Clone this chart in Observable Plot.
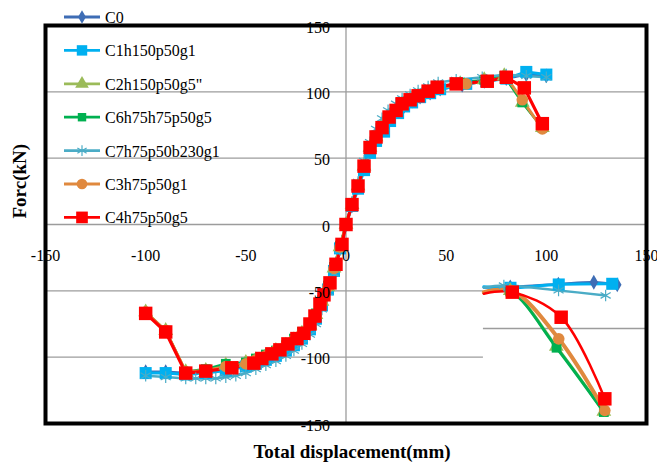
<!DOCTYPE html>
<html><head><meta charset="utf-8">
<script src="https://cdn.jsdelivr.net/npm/d3@7"></script>
<script src="https://cdn.jsdelivr.net/npm/@observablehq/plot@0.6"></script>
<style>
body{margin:0;background:#fff;}
#wrap{position:relative;width:657px;height:469px;overflow:hidden;}
#legend{position:absolute;left:0;top:0;pointer-events:none;}
#wrap svg, #wrap svg text{font-family:"Liberation Serif", serif !important;}
</style></head><body><div id="wrap"></div>
<script>
// ---------- data ----------
const seriesNames = ["C0", "C1h150p50g1", "C2h150p50g5\"", "C6h75h75p50g5", "C7h75p50b230g1", "C3h75p50g1", "C4h75p50g5"];
const seriesColors = ["#3E6DB5", "#00B0F0", "#9BBB59", "#00B050", "#4BACC6", "#E0893E", "#FF0000"];
const seriesSymbols = ["diamond", "square", "triangle", "square", "asterisk", "circle", "square"];

const xTicks = [-150, -100, -50, 0, 50, 100, 150];
const yTicks = [-150, -100, -50, 0, 50, 100, 150];

// main curves
const c0X = [-100,-90,-80,-70,-60,-50,-45,-40,-35,-30,-26,-22,-18,-15,-12,-9,-6,-3,0,3,6,9,12,15,18,22,26,29,33,37,42,47,58,69,80,90,100];
const c0Y = [-111,-111,-112,-111,-109,-106,-104,-101,-98,-94,-90,-85,-78,-70,-60,-48,-34,-17,0,14,28,42,55,64,71,79,85,89,93,96,99,102,105,108,110,113,112];
const c1X = [-100,-90,-80,-70,-60,-50,-45,-40,-35,-30,-26,-22,-18,-15,-12,-9,-6,-3,0,3,6,9,12,15,19,22,26,29,33,37,42,47,60,70,80,90,100];
const c1Y = [-112,-112,-113,-112,-110,-107,-105,-102,-99,-95,-91,-86,-79,-71,-61,-49,-35,-18,0,14,27,41,54,63,70,78,84,89,92,96,99,102,106,108,110,115,113];
const c2X = [-100,-90,-80,-70,-60,-50,-45,-40,-35,-30,-26,-22,-18,-15,-12,-9,-6,-3,0,3,6,9,12,15,18,21,25,28,32,36,41,46,57,69,79,88,98];
const c2Y = [-66,-80,-111,-110,-106,-104,-102,-99,-95,-91,-87,-82,-76,-68,-58,-47,-33,-17,0,15,29,44,58,66,74,81,86,91,94,97,100,103,106,109,112,92,73];
const c6X = [-100,-90,-80,-70,-60,-50,-45,-40,-35,-30,-26,-22,-18,-15,-12,-9,-6,-3,0,3,6,9,12,15,18,21,25,28,32,36,41,46,57,69,79,88,98];
const c6Y = [-66,-80,-111,-109,-105,-104,-101,-98,-95,-91,-86,-81,-75,-67,-57,-46,-32,-16,0,15,30,45,58,67,74,81,87,91,94,97,100,103,107,109,112,92,73];
const c7X = [-100,-90,-80,-75,-70,-65,-60,-55,-50,-45,-40,-35,-30,-26,-22,-18,-15,-12,-9,-6,-3,0,3,6,9,12,15,18,21,25,28,32,36,41,46,55,68,80,90,100];
const c7Y = [-114,-115,-116,-116,-116,-116,-115,-114,-112,-109,-106,-103,-99,-95,-90,-83,-75,-64,-51,-37,-19,0,17,32,48,62,72,80,86,91,95,98,101,104,107,109,111,113,112,111];
const c3X = [-100,-90,-80,-70,-60,-50,-45,-40,-35,-30,-26,-22,-18,-15,-12,-9,-6,-3,0,3,6,9,12,15,18,21,25,28,32,36,41,46,60,70,80,88,98];
const c3Y = [-66,-80,-111,-110,-107,-105,-102,-99,-95,-91,-87,-82,-76,-68,-58,-47,-33,-17,0,15,29,44,58,66,73,80,86,90,94,97,100,103,106,108,111,94,72];
const c4X = [-100,-90,-80,-70,-57,-46,-42,-37,-33,-29,-24.5,-21,-18,-15.5,-13,-11,-8,-5,-2,0,3,6,9,12,15,18,21.5,25,28,32,36,41,45.5,55,70.5,80,89,98];
const c4Y = [-67,-81,-112,-110.5,-108,-104.5,-101,-97.5,-94.5,-90,-86,-82,-75,-69,-60,-53,-44,-30,-15,0,15,29,44,58,66,73,81,86,91,94,97,100.5,103.5,106,108,111,103,76];

// pasted inset (bottom right), read in the main chart's data units
const insetBoxX = [68.6, 150];
const insetBoxY = [-46.5, -150];
const insetGridY = [-78.4];
const i0X = [68.8, 82, 106, 123.7, 135.4];
const i0Y = [-47.5, -47, -45, -43.5, -45.5];
const i1X = [68.8, 82.1, 106.2, 132.9];
const i1Y = [-47, -47.7, -45.2, -44.7];
const i2X = [68.8, 82, 105, 128.7];
const i2Y = [-51, -50, -92, -141];
const i6X = [68.8, 82, 105.1, 128.7];
const i6Y = [-51.5, -50.5, -92.9, -141.4];
const i7X = [68.8, 78.8, 106.1, 129.6];
const i7Y = [-47.5, -46, -49.7, -53.5];
const i3X = [68.8, 83, 106.2, 129.2];
const i3Y = [-51, -50, -86.2, -140.2];
const i4X = [68.8, 83, 107.4, 129.2];
const i4Y = [-52.2, -51, -69.9, -131.4];

// ---------- build ----------
const pts = (xs, ys) => xs.map((x, i) => ({x, y: ys[i]}));
const mainData = [pts(c0X,c0Y), pts(c1X,c1Y), pts(c2X,c2Y), pts(c6X,c6Y), pts(c7X,c7Y), pts(c3X,c3Y), pts(c4X,c4Y)];
const insetData = [pts(i0X,i0Y), pts(i1X,i1Y), pts(i2X,i2Y), pts(i6X,i6Y), pts(i7X,i7Y), pts(i3X,i3Y), pts(i4X,i4Y)];

// style: marker radius (Plot symbol size = pi r^2) and line widths
const markR = [4.5, 6.8, 5.5, 5.5, 5.5, 5.8, 7.6];
const lineW = [2.5, 3, 2.5, 2.5, 2.5, 3, 3.2];
const insetLineW = [2.5, 3, 3, 3, 2.5, 4, 2.5];

const FONT = "Liberation Serif";

function seriesMarks(data, widths, curve, dotFilter) {
  const marks = [];
  data.forEach((d, i) => {
    marks.push(Plot.line(d, {x: "x", y: "y", stroke: seriesColors[i], strokeWidth: widths[i], curve}));
  });
  data.forEach((d, i) => {
    const dd = dotFilter ? d.filter(dotFilter) : d;
    if (seriesSymbols[i] === "asterisk") {
      marks.push(Plot.dot(dd, {x: "x", y: "y", symbol: "asterisk", r: markR[i], stroke: seriesColors[i], strokeWidth: 1.2, fill: "none"}));
    } else {
      marks.push(Plot.dot(dd, {x: "x", y: "y", symbol: seriesSymbols[i], r: markR[i], fill: seriesColors[i], stroke: "none"}));
    }
  });
  return marks;
}

const chart = Plot.plot({
  width: 657, height: 469,
  marginLeft: 45, marginRight: 11, marginTop: 25, marginBottom: 46,
  x: {domain: [-150, 150], axis: null},
  y: {domain: [-150, 150], axis: null},
  style: {fontFamily: FONT, fontSize: "16px", background: "white", color: "black"},
  marks: [
    Plot.ruleY(yTicks, {stroke: "#9c9c9c", strokeWidth: 1.3}),
    Plot.ruleX([0], {stroke: "#9c9c9c", strokeWidth: 1.3}),
    ...seriesMarks(mainData, lineW, "linear", null),
    Plot.rect([0], {x1: insetBoxX[0], x2: insetBoxX[1], y1: insetBoxY[0], y2: insetBoxY[1], fill: "white"}),
    Plot.ruleY(insetGridY, {x1: insetBoxX[0], x2: insetBoxX[1], stroke: "#9c9c9c", strokeWidth: 1.3}),
    ...seriesMarks(insetData, insetLineW, "catmull-rom", d => d.x > 70),
    Plot.text(yTicks, {x: 0, y: d => d, text: d => String(d), textAnchor: "end", dx: -16, dy: 2, fontSize: 16, fill: "black"}),
    Plot.text(xTicks, {x: d => d, y: 0, text: d => String(d), dy: 31, fontSize: 16, fill: "black"}),
    Plot.text(["Total displacement(mm)"], {frameAnchor: "bottom", dx: 6, dy: 34, fontSize: 19, fontWeight: "bold", fill: "black"}),
    Plot.text(["Forc(kN)"], {frameAnchor: "left", dx: -26, dy: -6, rotate: -90, fontSize: 19, fontWeight: "bold", fill: "black"}),
    Plot.frame({stroke: "black", strokeWidth: 4})
  ]
});

const wrap = document.getElementById("wrap");
wrap.appendChild(chart);

// ---------- legend (overlaid at top-left, as in the reference) ----------
const legY0 = 17, legStep = 33.4;
const lg = d3.create("svg").attr("id", "legend").attr("width", 260).attr("height", 240);
const symMap = {diamond: d3.symbolDiamond, square: d3.symbolSquare, triangle: d3.symbolTriangle, asterisk: d3.symbolAsterisk, circle: d3.symbolCircle};
seriesNames.forEach((name, i) => {
  const y = legY0 + i * legStep;
  const g = lg.append("g");
  g.append("line").attr("x1", 64).attr("x2", 100).attr("y1", y).attr("y2", y)
    .attr("stroke", seriesColors[i]).attr("stroke-width", 2.8);
  const area = Math.PI * markR[i] * markR[i] * (seriesSymbols[i] === "square" ? 0.75 : 0.85);
  const p = d3.symbol(symMap[seriesSymbols[i]], area)();
  const sp = g.append("path").attr("d", p).attr("transform", `translate(82,${y})`);
  if (seriesSymbols[i] === "asterisk") sp.attr("fill", "none").attr("stroke", seriesColors[i]).attr("stroke-width", 1.2);
  else sp.attr("fill", seriesColors[i]);
  g.append("text").attr("x", 105).attr("y", y + 6).attr("font-family", FONT).attr("font-size", 16)
    .attr("fill", "black").text(name);
});
wrap.appendChild(lg.node());
</script></body></html>
